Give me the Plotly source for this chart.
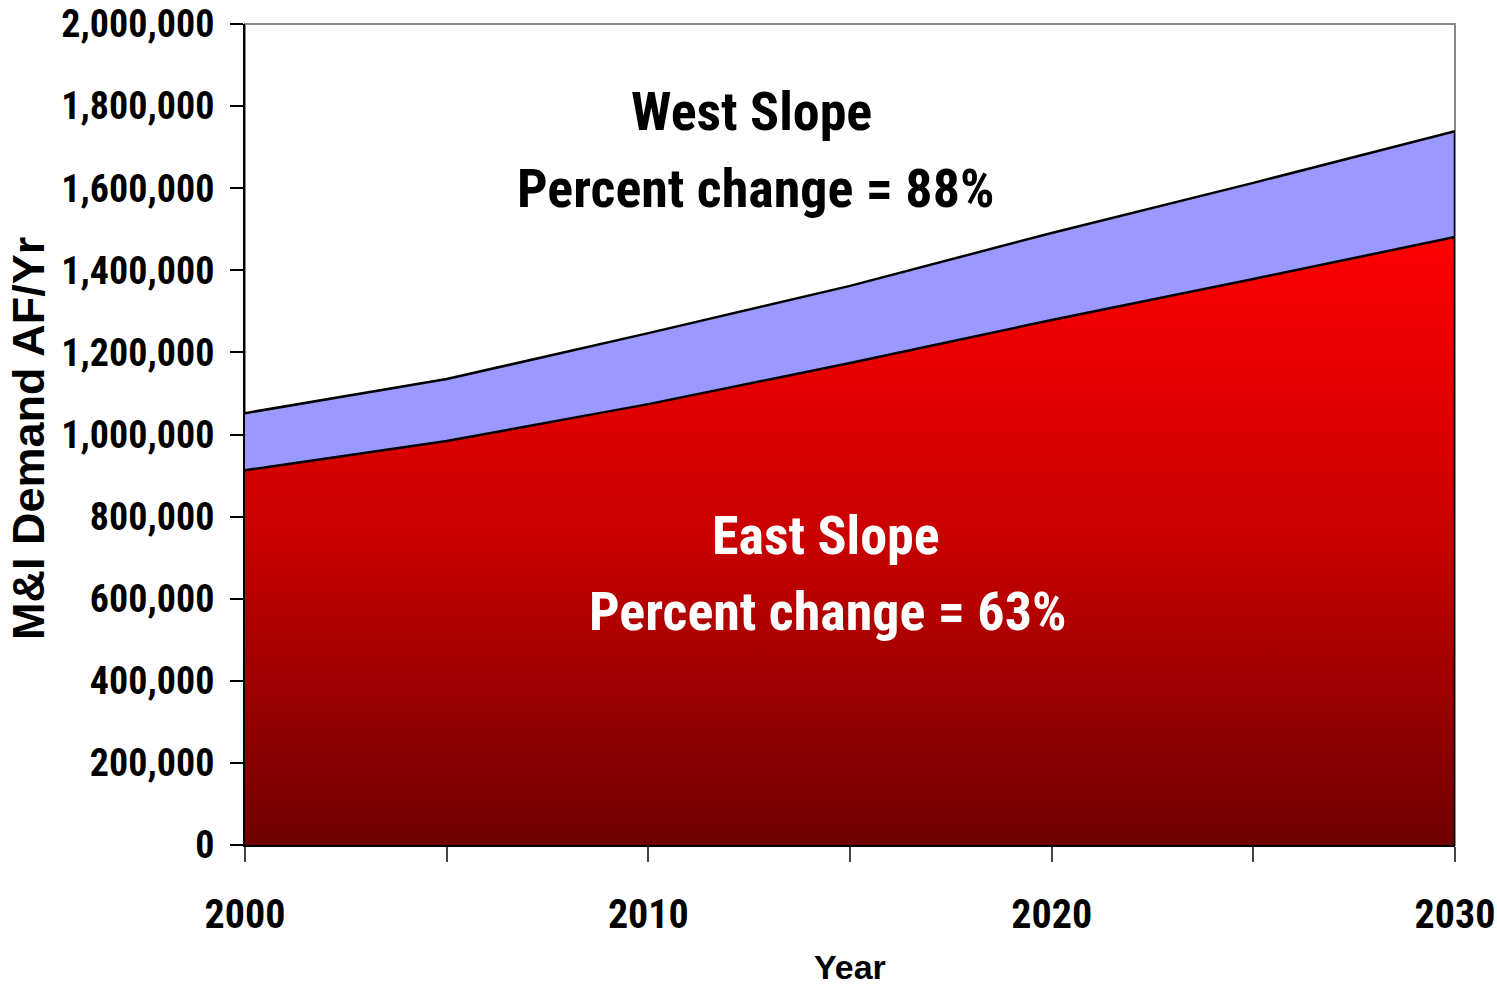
import plotly.graph_objects as go

years = [2000, 2005, 2010, 2015, 2020, 2025, 2030]
east_slope = [913000, 984000, 1074000, 1174000, 1279000, 1379000, 1481000]
west_slope = [139000, 151000, 173000, 188000, 212000, 234000, 258000]
total = [e + w for e, w in zip(east_slope, west_slope)]

y_ticks = list(range(0, 2000001, 200000))
y_tick_text = [f"{v:,}" for v in y_ticks]
x_ticks = years
x_tick_text = [str(y) if y % 10 == 0 else "" for y in years]

NARROW = "Roboto Condensed, Liberation Sans Narrow, Arial Narrow, sans-serif"
WIDE = "Liberation Sans, Arial, sans-serif"

fig = go.Figure()

fig.add_trace(go.Scatter(
    x=years, y=east_slope, mode="lines", fill="tozeroy",
    line=dict(color="black", width=2.5),
    fillgradient=dict(type="vertical", start=0, stop=max(east_slope),
                      colorscale=[[0, "#700000"], [0.5, "#C80000"], [1, "#FF0000"]]),
    showlegend=False, hoverinfo="skip"))

fig.add_trace(go.Scatter(
    x=years, y=total, mode="lines", fill="tonexty",
    fillcolor="#9999FF", line=dict(color="black", width=2.5),
    showlegend=False, hoverinfo="skip"))

# right edge outline of the stacked area
fig.add_trace(go.Scatter(
    x=[years[-1], years[-1]], y=[0, total[-1]], mode="lines",
    line=dict(color="black", width=2.5), showlegend=False, hoverinfo="skip"))

fig.add_shape(type="rect", xref="paper", yref="paper", x0=0, x1=1, y0=0, y1=1,
              line=dict(color="#888888", width=2), layer="below")

ann_font_b = dict(family=NARROW, size=54, color="black", weight="bold")
ann_font_w = dict(family=NARROW, size=54, color="white", weight="bold")
fig.add_annotation(x=2012.55, y=1788000, text="West Slope", showarrow=False,
                   font=ann_font_b, yanchor="middle")
fig.add_annotation(x=2012.65, y=1600000, text="Percent change = 88%", showarrow=False,
                   font=ann_font_b, yanchor="middle")
fig.add_annotation(x=2014.4, y=755000, text="East Slope", showarrow=False,
                   font=ann_font_w, yanchor="middle")
fig.add_annotation(x=2014.45, y=570000, text="Percent change = 63%", showarrow=False,
                   font=ann_font_w, yanchor="middle")

# axis titles
fig.add_annotation(x=0.5, y=-0.1486, xref="paper", yref="paper", text="Year", showarrow=False,
                   font=dict(family=WIDE, size=34, color="black", weight="bold"),
                   xanchor="center", yanchor="middle")
fig.add_annotation(x=-0.1793, y=0.4945, xref="paper", yref="paper", text="M&I Demand AF/Yr",
                   showarrow=False, textangle=-90,
                   font=dict(family=WIDE, size=45, color="black", weight="bold"),
                   xanchor="center", yanchor="middle")

fig.update_layout(
    width=1497, height=990,
    margin=dict(l=245, r=42, t=24, b=145),
    paper_bgcolor="white", plot_bgcolor="white",
    xaxis=dict(
        range=[2000, 2030], tickvals=x_ticks, ticktext=x_tick_text,
        ticks="outside", ticklen=15, tickwidth=2, tickcolor="#444444",
        showline=True, linecolor="black", linewidth=2,
        showgrid=False, zeroline=False, automargin=False,
        ticklabeloverflow="allow",
        tickfont=dict(family=NARROW, size=40, color="black", weight="bold"),
        ticklabelstandoff=18,
    ),
    yaxis=dict(
        range=[0, 2000000], tickvals=y_ticks, ticktext=y_tick_text,
        ticks="outside", ticklen=13, tickwidth=2, tickcolor="black",
        showline=True, linecolor="black", linewidth=2,
        showgrid=False, zeroline=False, automargin=False,
        ticklabeloverflow="allow",
        tickfont=dict(family=NARROW, size=38, color="black", weight="bold"),
        ticklabelstandoff=8,
    ),
)

fig.write_html("out.html")
